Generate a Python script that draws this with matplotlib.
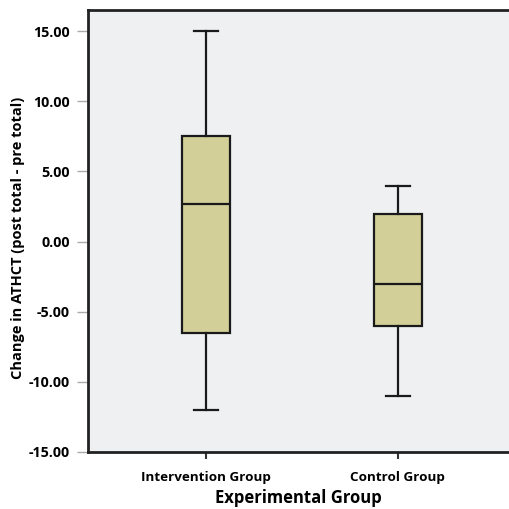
import matplotlib
matplotlib.use("Agg")
import matplotlib.pyplot as plt

# box statistics
groups = ["Intervention Group", "Control Group"]
whisker_low = [-12.0, -11.0]
q1 = [-6.5, -6.0]
median = [2.7, -3.0]
q3 = [7.5, 2.0]
whisker_high = [15.0, 4.0]

yticks = [-15, -10, -5, 0, 5, 10, 15]

plt.rcParams['font.family'] = ['Open Sans', 'DejaVu Sans']

fig = plt.figure(figsize=(5.09, 5.09), dpi=100)
ax = fig.add_axes([0.173, 0.112, 0.827, 0.868])
ax.set_facecolor('#eff0f1')

stats = []
for i in range(len(groups)):
    stats.append({
        'label': groups[i],
        'whislo': whisker_low[i],
        'q1': q1[i],
        'med': median[i],
        'q3': q3[i],
        'whishi': whisker_high[i],
        'fliers': [],
    })

ax.bxp(stats, positions=[1, 2], widths=0.25, patch_artist=True,
       showfliers=False,
       boxprops=dict(facecolor='#d3cf98', edgecolor='#1a1a1a', linewidth=1.6),
       medianprops=dict(color='#1a1a1a', linewidth=1.6),
       whiskerprops=dict(color='#1a1a1a', linewidth=1.6),
       capprops=dict(color='#1a1a1a', linewidth=1.6))

ax.set_xlim(0.382, 2.58)
ax.set_ylim(-15, 16.5)
ax.set_yticks(yticks)
ax.set_yticklabels(['%.2f' % v for v in yticks], fontweight='bold', fontsize=10.3)
ax.set_xticklabels(groups, fontweight='bold', fontsize=9.7)

ax.tick_params(axis='y', direction='out', length=8, width=1, color='#aaaaaa', pad=5)
ax.tick_params(axis='x', direction='out', length=5, width=1.5, color='#333333', pad=9)

for side in ['left', 'bottom', 'top']:
    ax.spines[side].set_linewidth(2)
    ax.spines[side].set_color('#222222')
ax.spines['right'].set_visible(False)

ax.set_xlabel('Experimental Group', fontweight='bold', fontsize=12, labelpad=3)
ax.set_ylabel('Change in ATHCT (post total - pre total)', fontweight='bold', fontsize=10.5)
ax.yaxis.set_label_coords(-0.150, 0.484)

fig.savefig('out.png', dpi=100)
